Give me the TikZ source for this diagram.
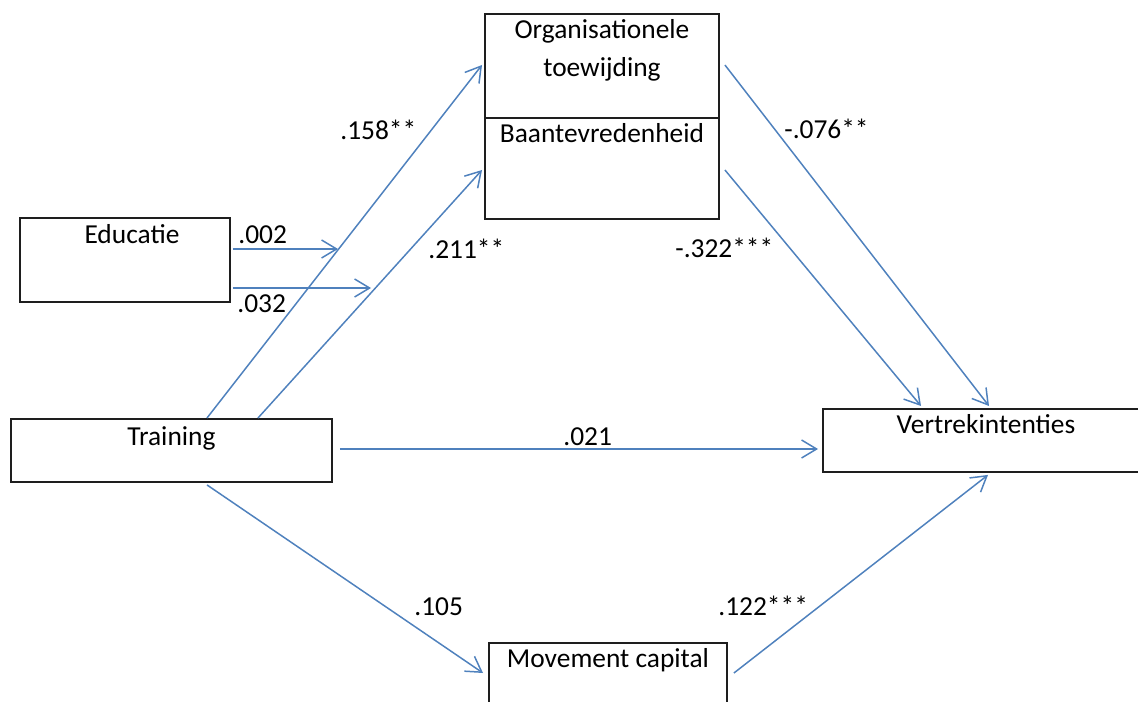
\documentclass[tikz,border=0pt]{standalone}
\usepackage{fontspec}
\setmainfont{Carlito}
\usetikzlibrary{arrows.meta,calc}
\definecolor{lineblue}{RGB}{79,129,189}
\definecolor{boxline}{RGB}{30,30,30}
\begin{document}
\begin{tikzpicture}[x=0.02cm,y=-0.02cm,
  every node/.style={font=\fontsize{15.6}{21.6}\selectfont, text=black},
  box/.style={draw=boxline, line width=1.1pt, inner sep=0pt, anchor=north west},
  arr/.style={draw=lineblue, line width=0.85pt, -{Straight Barb[length=0.3cm,width=0.36cm]}},
  lab/.style={anchor=base west, inner sep=0pt}]
\useasboundingbox[clip] (0,0) rectangle (1138,702);

\node[box, minimum width=210*0.02cm, minimum height=84*0.02cm, text height=0.52cm, text depth=1.16cm] (edu) at (19,217) {\hspace*{0.28cm}Educatie};
\node[box, minimum width=321*0.02cm, minimum height=63*0.02cm, text height=0.54cm, text depth=0.72cm] (train) at (10,418) {Training};
\node[box, minimum width=234*0.02cm, minimum height=104*0.02cm, text height=0.5cm, text depth=1.58cm] (org) at (484,13) {\begin{tabular}[t]{@{}c@{}}Organisationele\\toewijding\end{tabular}};
\node[box, minimum width=234*0.02cm, minimum height=101*0.02cm, text height=0.5cm, text depth=1.52cm] (baan) at (484,117) {Baantevredenheid};
\node[box, minimum width=360*0.02cm, minimum height=63*0.02cm, text height=0.5cm, text depth=0.76cm] (vert) at (822,408) {Vertrekintenties\hspace*{0.68cm}};
\node[box, minimum width=238*0.02cm, minimum height=68*0.02cm, text height=0.5cm, text depth=0.86cm] (move) at (488,642) {Movement capital};

\coordinate (e1) at (338,249);
\coordinate (e2) at (371,288);

\draw[arr] ($(edu.north east)+(2,32)$) -- (e1);
\draw[arr] ($(edu.north east)+(2,71)$) -- (e2);
\draw[arr] ($(train.north west)+(197,0)$) -- ($(org.north west)+(-2,52)$);
\draw[arr] ($(train.north west)+(248,0)$) -- ($(baan.north west)+(-2,53)$);
\draw[arr] ($(train.north east)+(7,31)$) -- ($(vert.north west)+(-4,41)$);
\draw[arr] ($(train.south west)+(197,2)$) -- ($(move.north west)+(-5,31)$);
\draw[arr] ($(org.north east)+(5,52)$) -- ($(vert.north west)+(167,-2)$);
\draw[arr] ($(baan.north east)+(5,53)$) -- ($(vert.north west)+(99,-2)$);
\draw[arr] ($(move.north east)+(6,31)$) -- ($(vert.south west)+(166,2)$);

\node[lab] (l1) at (238,244) {.002};
\node[lab] (l2) at (237,313) {.032};
\node[lab] (l3) at (340,140) {.158**};
\node[lab] (l4) at (428,259) {.211**};
\node[lab] (l5) at (563,445) {.021};
\node[lab] (l6) at (784,139) {-.076**};
\node[lab] (l7) at (675,257) {-.322***};
\node[lab] (l8) at (414,615) {.105};
\node[lab] (l9) at (718,615) {.122***};
\end{tikzpicture}
\end{document}
